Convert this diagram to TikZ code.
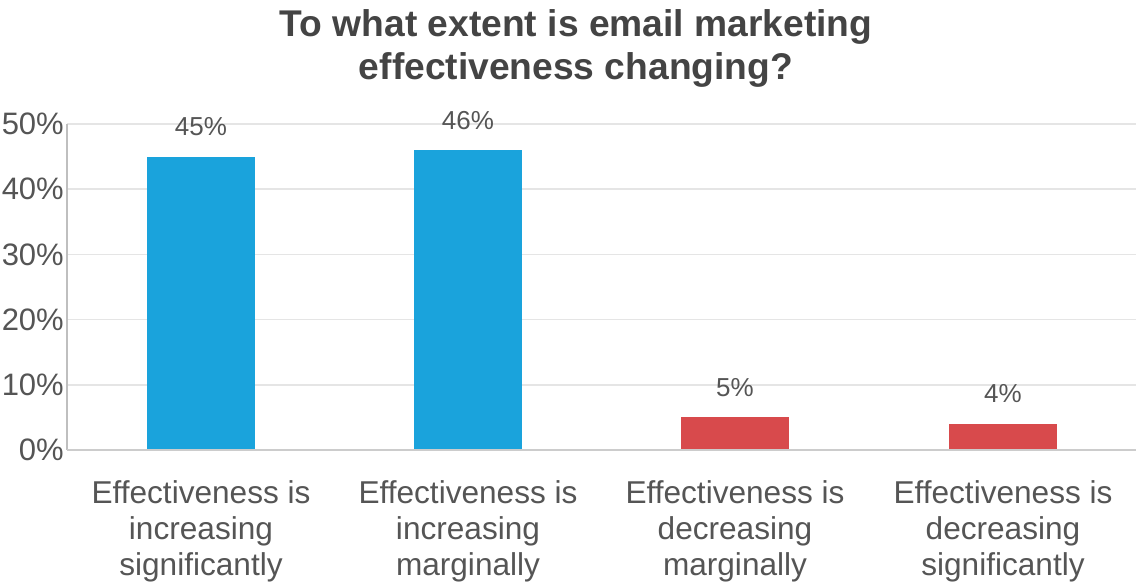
\documentclass[tikz,border=0pt]{standalone}
\usepackage{fontspec}
\setmainfont{Liberation Sans}
\usetikzlibrary{positioning}
\definecolor{incblue}{HTML}{1AA3DC}
\definecolor{decred}{HTML}{D84A4C}
\definecolor{txtgray}{HTML}{555555}
\definecolor{ttlgray}{HTML}{444444}
\tikzset{
  gridln/.style={draw=black!10, line width=1.5pt},
  axisln/.style={draw=black!25, line width=2pt},
  ylab/.style={anchor=east, inner sep=0pt, text=txtgray, font=\fontsize{31}{36}\selectfont},
  vlab/.style={inner sep=0pt, text=txtgray, font=\fontsize{26}{30}\selectfont},
  clab/.style={anchor=north, inner sep=0pt, align=center, text=txtgray, font=\fontsize{31.6}{36}\selectfont},
}

\begin{document}
\begin{tikzpicture}[x=1pt, y=-1pt,
    ttl/.style={anchor=north, inner sep=0pt, align=center, text=ttlgray, font=\bfseries\fontsize{37.2}{43}\selectfont}]
  \useasboundingbox (0,0) rectangle (1136,584);

  \node[ttl] (title) at (576,9) {To what extent is email marketing\\effectiveness changing?};

  % grid and axes
  \foreach \v in {10,20,30,40,50}
    \draw[gridln] (67,{450-6.52*\v}) -- (1136,{450-6.52*\v});
  \foreach \v in {0,10,20,30,40,50}
    \node[ylab] (t\v) at (64,{450-6.52*\v}) {\v\%};
  \draw[axisln] (67,124) -- (67,450);
  \draw[draw=black!20, line width=1.5pt] (67,450) -- (1136,450);

  % bars with value labels
  \foreach \x/\v/\c/\n in {201/45/incblue/a, 468/46/incblue/b, 735/5/decred/c, 1003/4/decred/d} {
    \fill[\c] (\x-54,449) rectangle (\x+54,{450-6.52*\v});
    \node[vlab] (v\n) at (\x,{450-6.52*\v-30}) {\v\%};
  }

  % category labels
  \node[clab] (ca) at (201,480) {Effectiveness is\\increasing\\significantly};
  \node[clab] (cb) at (468,480) {Effectiveness is\\increasing\\marginally};
  \node[clab] (cc) at (735,480) {Effectiveness is\\decreasing\\marginally};
  \node[clab] (cd) at (1003,480) {Effectiveness is\\decreasing\\significantly};
\end{tikzpicture}
\end{document}
